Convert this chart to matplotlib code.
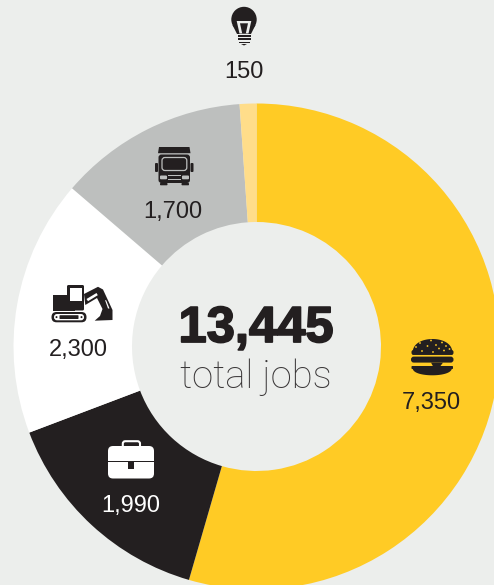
import matplotlib
matplotlib.use("Agg")
import numpy as np
import matplotlib.pyplot as plt
import matplotlib.patheffects as pe
from matplotlib.patches import Circle, Polygon, FancyBboxPatch, Rectangle

sectors = ["Food", "Office", "Construction", "Transport", "Utilities"]
jobs = [7350, 1990, 2300, 1700, 150]
labels = ["7,350", "1,990", "2,300", "1,700", "150"]
colors = ["#FFCB25", "#231F20", "#FFFFFF", "#BDBFBE", "#FFDD8A"]
total_value = "13,445"
total_label = "total jobs"

BG = "#ECEEEC"
INK = "#231F20"
W, H = 494, 585

fig = plt.figure(figsize=(W / 100, H / 100), dpi=100, facecolor=BG)
ax = fig.add_axes([0, 0, 1, 1])
ax.pie(jobs, colors=colors, startangle=90, counterclock=False,
       radius=243, center=(256.5, H - 346.5),
       wedgeprops=dict(width=118.5, linewidth=0), frame=False)
ax.set_xlim(0, W)
ax.set_ylim(0, H)
ax.set_aspect("auto")
ax.axis("off")

ov = fig.add_axes([0, 0, 1, 1], facecolor="none")
ov.set_xlim(0, W)
ov.set_ylim(H, 0)
ov.axis("off")


def poly(pts, c=INK):
    ov.add_patch(Polygon(pts, closed=True, fc=c, ec="none"))


def box(x0, y0, x1, y1, c=INK, r=0.0):
    if r:
        ov.add_patch(FancyBboxPatch((x0 + r, y0 + r), x1 - x0 - 2 * r, y1 - y0 - 2 * r,
                                    boxstyle=f"round,pad={r},rounding_size={r}", fc=c, ec="none"))
    else:
        ov.add_patch(Rectangle((x0, y0), x1 - x0, y1 - y0, fc=c, ec="none"))


def frame(x0, y0, x1, y1, c, r, lw):
    ov.add_patch(FancyBboxPatch((x0 + r, y0 + r), x1 - x0 - 2 * r, y1 - y0 - 2 * r,
                                boxstyle=f"round,pad={r},rounding_size={r}", fc="none", ec=c, lw=lw))


def circ(x, y, r, c=INK):
    ov.add_patch(Circle((x, y), r, fc=c, ec="none"))


def dome(x0, x1, yflat, ytip, c=INK):
    t = np.linspace(0, np.pi, 60)
    cx, rx = (x0 + x1) / 2, (x1 - x0) / 2
    poly(np.column_stack([cx - rx * np.cos(t), yflat + (ytip - yflat) * np.sin(t) ** 0.75]), c)


# bulb
circ(244, 19.5, 12.7)
poly([(232.5, 25), (255.5, 25), (251, 34), (237, 34)])
poly([(236.7, 21), (251.3, 21), (248.5, 33.5), (239.5, 33.5)], BG)
poly([(240, 23.3), (248, 23.3), (245.8, 33.5), (242.2, 33.5)], INK)
box(237.5, 35.3, 250.7, 37.2, INK)
box(237.5, 38.4, 250.7, 40.3, INK)
box(238.5, 41.5, 249.7, 43.3, INK)
poly([(241, 44), (247, 44), (244, 45.5)])

# truck
yc = "#BDBFBE"
poly([(159, 147), (189.5, 147), (190.5, 153.2), (158, 153.2)])
box(158.5, 154.5, 190, 183, INK, 3)
box(155, 163, 158, 172, INK, 1)
box(190.5, 163, 193.5, 172, INK, 1)
frame(162, 157.5, 186.8, 170.5, yc, 3, 0.9)
box(160, 175.5, 167, 179.3, yc, 1)
box(182, 175.5, 189, 179.3, yc, 1)
box(168, 175, 181, 176, yc)
box(168, 178.5, 181, 179.5, yc)
box(160, 183, 167.5, 185.3, INK, 0.8)
box(181.5, 183, 189, 185.3, INK, 0.8)

# excavator
box(53, 295, 75, 310.5, INK)
box(67, 285, 84, 310.5, INK, 1.5)
box(70.3, 287.5, 81.5, 301, "#FFFFFF")
box(51.5, 312, 86.5, 322.3, INK, 5)
box(54, 314, 84, 320.3, "#FFFFFF", 3)
box(59.5, 315.2, 78.5, 319, INK, 0.6)
circ(56.5, 317.1, 1.0)
circ(81.5, 317.1, 1.0)
poly([(84, 294), (98, 286.8), (103, 289.5), (112.5, 310), (112.5, 320), (94.7, 320.7), (100, 316), (102.5, 309),
      (97, 298), (85.3, 305)])
poly([(86.5, 299), (96.5, 293), (97.8, 295.2), (88, 301.2)], "#FFFFFF")
poly([(105, 300), (106.3, 300.5), (109.5, 308.5), (108, 308.5)], "#FFFFFF")

# briefcase
box(108, 446, 154, 478.5, "#FFFFFF", 5)
frame(122.8, 441.2, 140, 449, "#FFFFFF", 2.5, 1.5)
box(108, 461.2, 154, 462.4, INK)
box(128, 462, 134, 468.5, INK)

# burger
yb = "#FFCB25"
dome(412.5, 452.5, 354.8, 339)
box(411.5, 350, 453.5, 354.8, INK, 2)
box(411, 356.6, 453.5, 362.6, INK, 2.8)
box(411.5, 366, 453, 369, INK, 0.8)
dome(412.5, 452, 367, 375.3)
poly([(431, 362.6), (443, 362.6), (440, 366.6), (436, 367.8), (433, 366.3)], INK)
for (sx, sy) in [(420, 343), (431, 340.5), (442, 342.5), (416, 347), (427.5, 346), (436, 345), (446, 346),
                 (422, 351), (433, 352), (444, 350.5), (439, 348.5), (449.5, 349)]:
    circ(sx, sy, 0.9, yb)

# value labels
label_xy = [(431, 409), (131, 512), (78, 356), (173, 218), (244, 78)]
label_colors = [INK, "#FFFFFF", INK, INK, INK]
for t, (x, y), c in zip(labels, label_xy, label_colors):
    ov.text(x, y, t, ha="center", va="baseline", fontsize=17, color=c, family="Liberation Sans")

ov.text(256, 342, total_value, ha="center", va="baseline", fontsize=36.5, color=INK,
        family="Liberation Sans", weight="bold",
        path_effects=[pe.withStroke(linewidth=1.3, foreground=INK)])
ov.text(256, 388, total_label, ha="center", va="baseline", fontsize=27.5, color="#3A3738",
        family="Roboto", weight="light")

fig.savefig("out.png", dpi=100, facecolor=BG)
